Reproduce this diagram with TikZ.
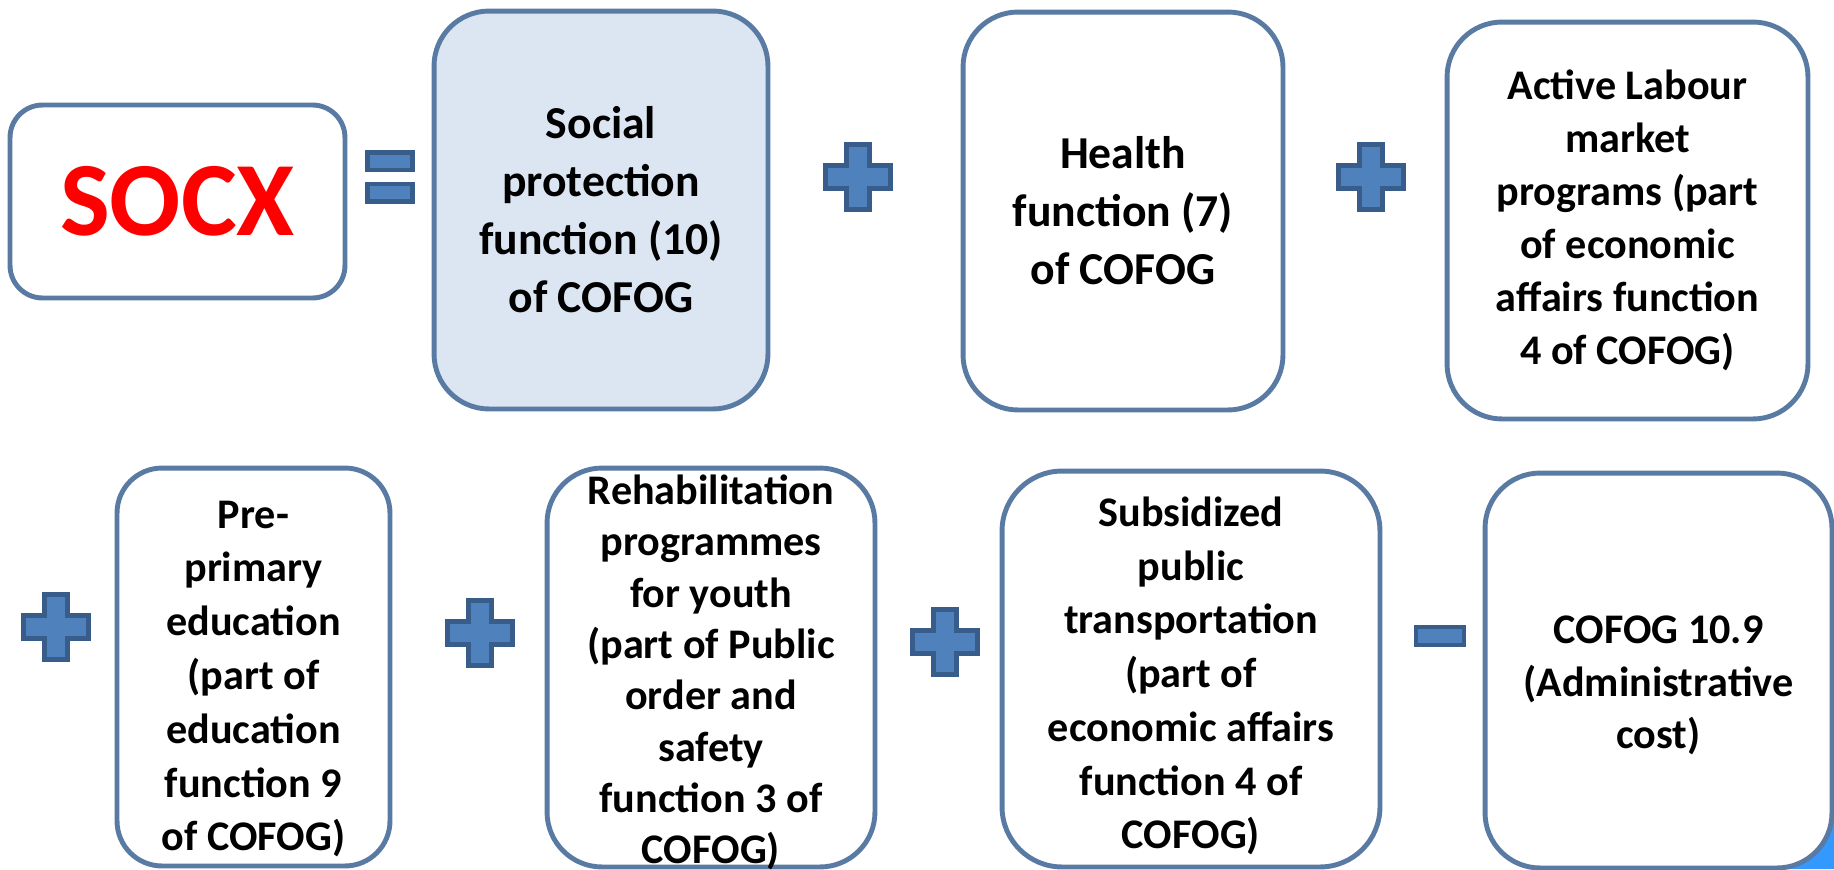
\documentclass[tikz,border=0pt]{standalone}
\usepackage{fontspec}
\setmainfont{Carlito}
\usepackage{tikz}
\usetikzlibrary{positioning}
\definecolor{boxline}{RGB}{89,122,163}
\definecolor{socfill}{RGB}{220,230,242}
\definecolor{opfill}{RGB}{79,129,189}
\definecolor{opline}{RGB}{56,93,138}
\definecolor{socxred}{RGB}{255,0,0}
\definecolor{cornerblue}{RGB}{51,153,255}

\tikzset{
    box/.style={draw=boxline, line width=2.8pt, fill=white, align=center, inner sep=0pt, rounded corners=1.1cm},
    bigtext/.style={font=\bfseries\fontsize{26}{33}\selectfont},
    smalltext/.style={align=center, inner sep=0pt, font=\bfseries\fontsize{24}{30.6}\selectfont},
    op/.style={fill=opfill, draw=opline, line width=2.8pt},
    opplus/.pic={\filldraw[op] (-11.5,32.5) -- (11.5,32.5) -- (11.5,11.5) -- (32.5,11.5) -- (32.5,-11.5) -- (11.5,-11.5) -- (11.5,-32.5) -- (-11.5,-32.5) -- (-11.5,-11.5) -- (-32.5,-11.5) -- (-32.5,11.5) -- (-11.5,11.5) -- cycle;},
    opminus/.pic={\filldraw[op] (-24,-9) rectangle (24,9);},
    opequal/.pic={\filldraw[op] (-22.5,-24.5) rectangle (22.5,-7) (-22.5,7) rectangle (22.5,24.5);}
}

\begin{document}
\begin{tikzpicture}[x=0.02cm, y=-0.02cm]
    \useasboundingbox (0,0) rectangle (1834,869);

    % corner of a shape behind the last box
    \fill[cornerblue] (1780,869) -- (1834,869) -- (1834,815) -- cycle;

    % Top row
    \node[box, rounded corners=0.65cm, minimum width=6.7cm, minimum height=3.86cm,
          font=\bfseries\fontsize{60}{72}\selectfont, text=socxred] (socx) at (177.5,201.5) {SOCX};
    \pic at (390,177) {opequal};
    \node[box, bigtext, fill=socfill, minimum width=6.68cm, minimum height=7.96cm] (social) at (601,210)
        {Social\\protection\\function (10)\\of COFOG};
    \pic at (858,177) {opplus};
    \node[box, bigtext, minimum width=6.4cm, minimum height=7.96cm] (health) at (1123,211)
        {Health\\function (7)\\of COFOG};
    \pic at (1371,177) {opplus};
    \node[box, font=\bfseries\fontsize{24}{30.2}\selectfont, minimum width=7.22cm, minimum height=7.94cm] (labour) at (1627.5,220.5)
        {Active Labour\\market\\programs (part\\of economic\\affairs function\\4 of COFOG)};

    % Bottom row
    \pic at (56,627) {opplus};
    \node[box, rounded corners=0.9cm, minimum width=5.46cm, minimum height=7.96cm] (preprimary) at (253.5,667) {};
    \node[smalltext] (preprimarytext) at ([yshift=-0.24cm]preprimary.center)
        {Pre-\\primary\\education\\(part of\\education\\function 9\\of COFOG)};
    \pic at (480,633) {opplus};
    \node[box, minimum width=6.56cm, minimum height=7.98cm] (youth) at (711,667.5) {};
    \node[smalltext, font=\bfseries\fontsize{24}{29.2}\selectfont] (youthtext) at ([yshift=-0.1cm]youth.center)
        {Rehabilitation\\programmes\\for youth\\(part of Public\\order and\\safety\\function 3 of\\COFOG)};
    \pic at (945,642) {opplus};
    \node[box, rounded corners=1.2cm, minimum width=7.56cm, minimum height=7.92cm] (transport) at (1191,669) {};
    \node[smalltext] (transporttext) at ([yshift=-0.14cm]transport.center)
        {Subsidized\\public\\transportation\\(part of\\economic affairs\\function 4 of\\COFOG)};
    \pic at (1440,636) {opminus};
    \node[box, minimum width=6.94cm, minimum height=7.9cm] (admin) at (1658.5,670.5) {};
    \node[smalltext, font=\bfseries\fontsize{24}{30}\selectfont] (admintext) at ([yshift=-0.3cm]admin.center)
        {COFOG 10.9\\(Administrative\\cost)};
\end{tikzpicture}
\end{document}
